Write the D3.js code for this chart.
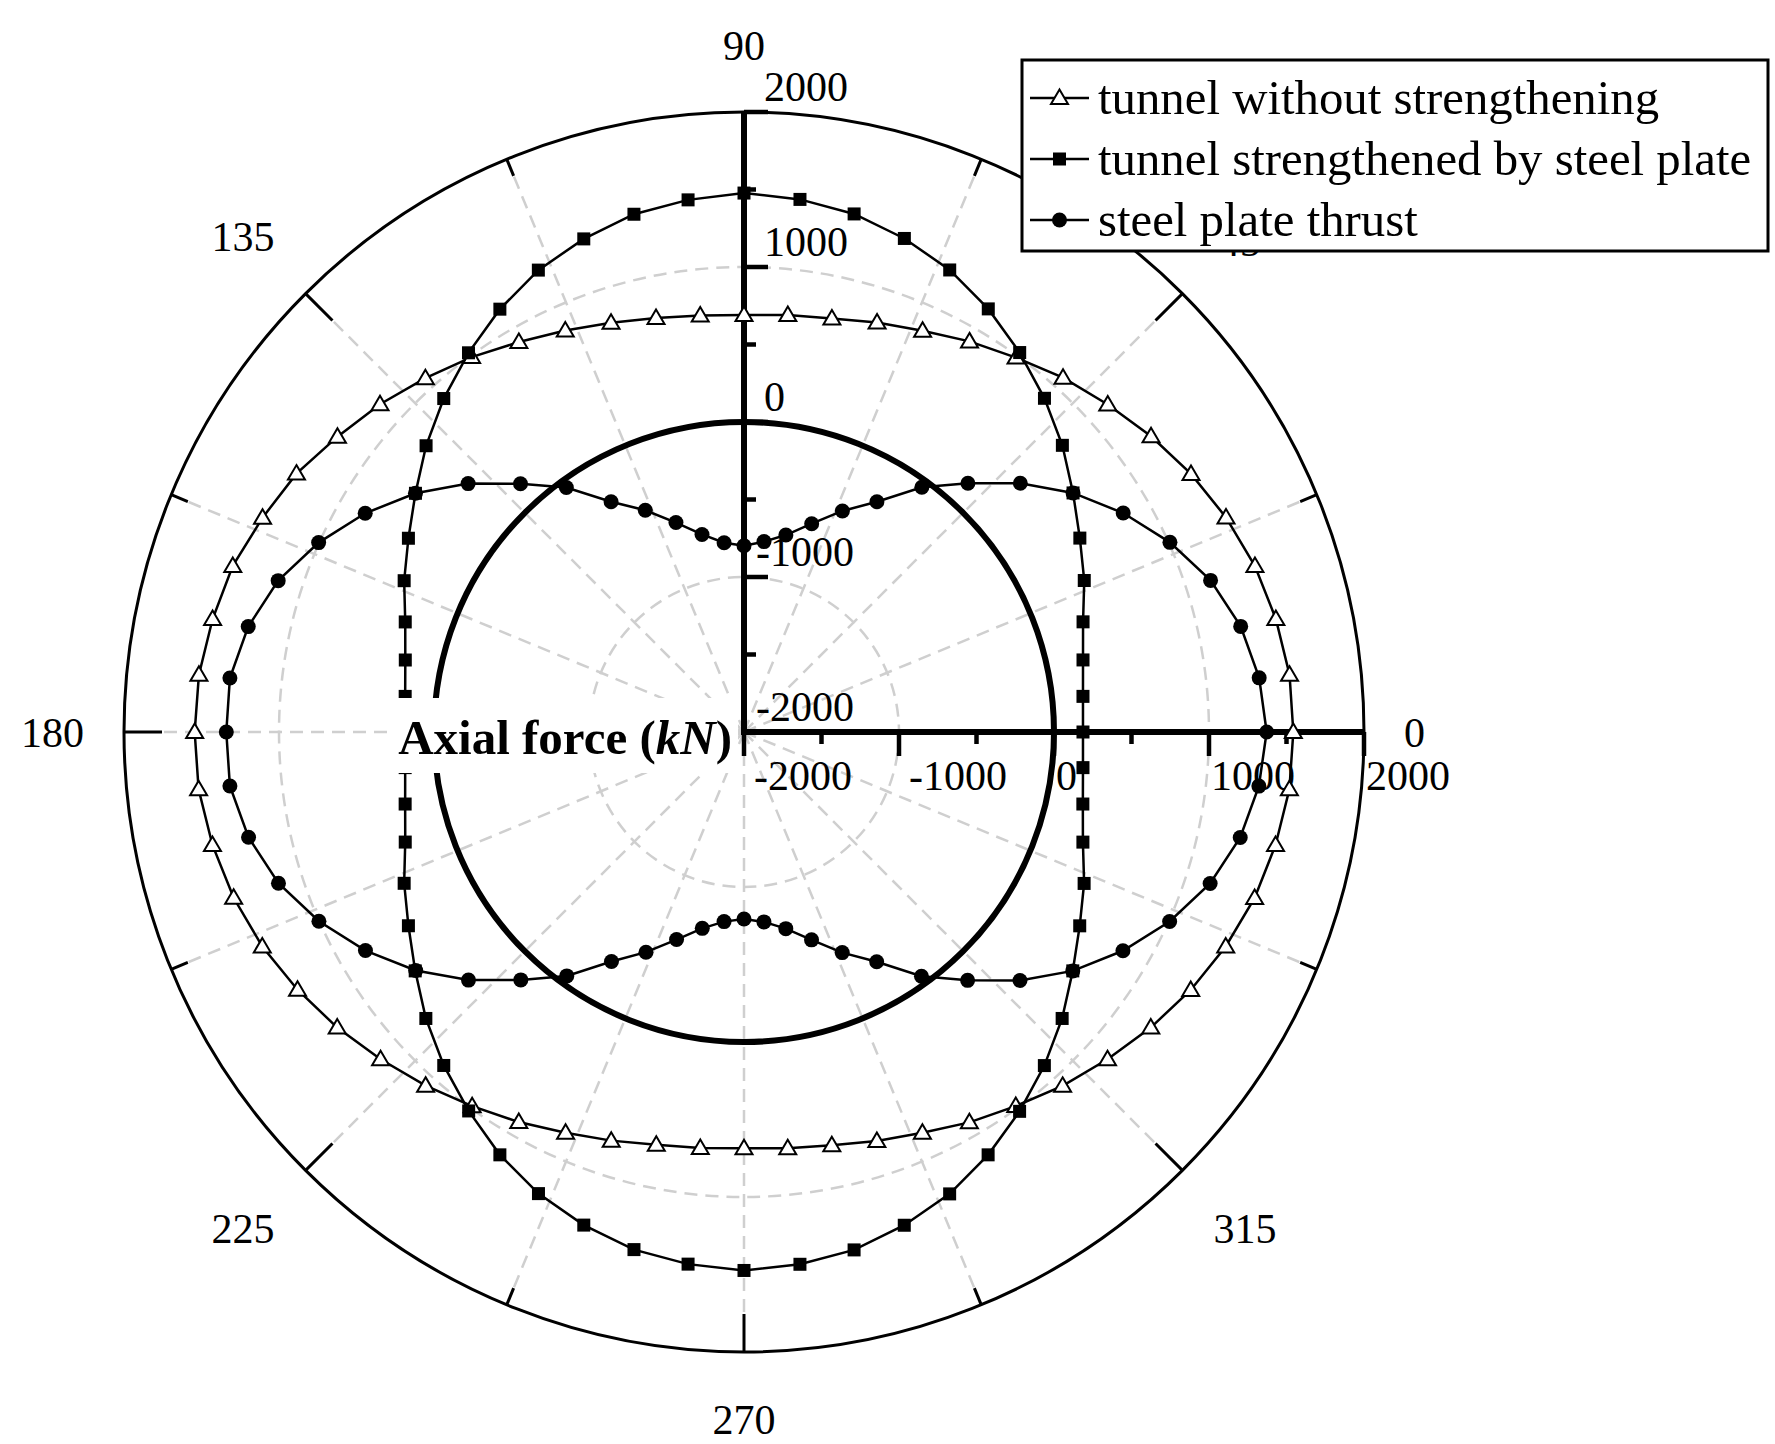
<!DOCTYPE html>
<html><head><meta charset="utf-8">
<script src="https://cdn.jsdelivr.net/npm/d3@7"></script>
<style>html,body{margin:0;padding:0;background:#fff}</style>
</head><body>
<svg id="chart" width="1775" height="1444"></svg>
<script>
// ---------- data ----------
const angles = [0,6,12,18,24,30,36,42,48,54,60,66,72,78,84,90,96,102,108,114,120,126,132,138,144,150,156,162,168,174,180,186,192,198,204,210,216,222,228,234,240,246,252,258,264,270,276,282,288,294,300,306,312,318,324,330,336,342,348,354];
const tunnelWithout = [1544,1539,1508,1466,1404,1330,1246,1158,1076,986,910,833,778,728,705,690,
  702,730,776,835,905,990,1072,1160,1242,1334,1400,1468,1505,1536,1544,
  1538,1506,1462,1402,1326,1244,1155,1070,984,906,830,772,722,698,686,
  700,725,774,830,908,983,1072,1156,1244,1328,1402,1464,1506,1538];
const tunnelSteel = [187,199,236,300,403,502,624,764,897,1026,1152,1263,1348,1417,1455,1477,
  1452,1415,1345,1262,1150,1024,895,760,620,500,400,298,234,198,186,
  198,235,298,400,500,622,762,895,1022,1150,1260,1345,1414,1452,1474,
  1453,1416,1346,1262,1150,1025,896,762,622,501,402,299,235,199];
const plateThrust = [1372,1342,1276,1165,1008,825,624,399,159,-48,-285,-439,-587,-701,-765,-798,
  -772,-697,-579,-434,-285,-50,155,395,620,822,1004,1160,1270,1335,1340,
  1335,1268,1158,1002,820,618,392,152,-55,-290,-445,-592,-705,-770,-794,
  -768,-703,-590,-442,-288,-52,156,396,622,823,1006,1162,1273,1340];
const seriesNames = ["tunnel without strengthening","tunnel strengthened by steel plate","steel plate thrust"];
const radialTicks = [-2000,-1000,0,1000,2000];
const radialMinor = [-1500,-500,500,1500];
const angleTicks = [0,22.5,45,67.5,90,112.5,135,157.5,180,202.5,225,247.5,270,292.5,315,337.5];
const angleLabels = [0,45,90,135,180,225,270,315];
const axisTitle = "Axial force (kN)";

// ---------- layout ----------
const cx = 744, cy = 732, R = 620;
const FONT = "'Liberation Serif','Times New Roman',serif";
const TICKFS = 42;
const svg = d3.select("#chart");
svg.append("rect").attr("width",1775).attr("height",1444).attr("fill","#fff");
const r = d3.scaleLinear().domain([-2000,2000]).range([0,R]);
const rad = a => a*Math.PI/180;
const px = (a,rr) => cx + rr*Math.cos(rad(a));
const py = (a,rr) => cy - rr*Math.sin(rad(a));

const g = svg.append("g");
// dashed radial grid
angleTicks.forEach(a=>{
  const major = (a % 45) === 0;
  const tl = major ? 38 : 18;
  g.append("line").attr("x1",cx).attr("y1",cy).attr("x2",px(a,R-tl)).attr("y2",py(a,R-tl))
   .attr("stroke","#cfcfcf").attr("stroke-width",2.5).attr("stroke-dasharray","13,8");
});
// dashed grid circles
[-1000,1000].forEach(v=>{
  g.append("circle").attr("cx",cx).attr("cy",cy).attr("r",r(v)).attr("fill","none")
   .attr("stroke","#cfcfcf").attr("stroke-width",2.5).attr("stroke-dasharray","13,8");
});
// outer circle
g.append("circle").attr("cx",cx).attr("cy",cy).attr("r",R).attr("fill","none").attr("stroke","#000").attr("stroke-width",3);
// angular ticks
angleTicks.forEach(a=>{
  const major = (a % 45) === 0;
  const tl = major ? 38 : 18;
  g.append("line").attr("x1",px(a,R)).attr("y1",py(a,R)).attr("x2",px(a,R-tl)).attr("y2",py(a,R-tl))
   .attr("stroke","#000").attr("stroke-width",3);
});
// angular labels
angleLabels.forEach(a=>{
  const t = String(a);
  const s = Math.abs(Math.sin(rad(a))), c = Math.abs(Math.cos(rad(a)));
  const hw = t.length*TICKFS/4, hh = 15;
  const rr = 660 + 12*s + hw*c + hh*s;
  const rx = rr + 14*s*c;
  g.append("text").attr("x",px(a,rx)).attr("y",py(a,rr)+1).attr("text-anchor","middle")
   .attr("dominant-baseline","central").attr("font-family",FONT).attr("font-size",TICKFS).text(t);
});
// zero circle (bold)
g.append("circle").attr("cx",cx).attr("cy",cy).attr("r",r(0)).attr("fill","none").attr("stroke","#000").attr("stroke-width",6);

// axes
g.append("line").attr("x1",cx).attr("y1",cy).attr("x2",cx+R).attr("y2",cy).attr("stroke","#000").attr("stroke-width",6);
g.append("line").attr("x1",cx).attr("y1",cy+3).attr("x2",cx).attr("y2",cy-R).attr("stroke","#000").attr("stroke-width",6);
radialTicks.concat(radialMinor).forEach(v=>{
  const major = radialTicks.includes(v);
  const tl = major ? 24 : 12;
  g.append("line").attr("x1",cx+r(v)).attr("y1",cy).attr("x2",cx+r(v)).attr("y2",cy+tl).attr("stroke","#000").attr("stroke-width",4.5);
  g.append("line").attr("x1",cx).attr("y1",cy-r(v)).attr("x2",cx+tl).attr("y2",cy-r(v)).attr("stroke","#000").attr("stroke-width",4.5);
});
radialTicks.forEach(v=>{
  g.append("text").attr("x",cx+r(v)+(v<0?10:2)).attr("y",cy+58).attr("font-family",FONT).attr("font-size",TICKFS).text(v);
  g.append("text").attr("x",cx+(v<0?12:20)).attr("y",cy-r(v)-11).attr("font-family",FONT).attr("font-size",TICKFS).text(v);
});

// ---------- series ----------
const mk = vals => angles.map((a,i)=>({a:a, v:vals[i]}));
const line = d3.lineRadial().angle(d=>rad(90-d.a)).radius(d=>r(d.v)).curve(d3.curveLinearClosed);
const sg = svg.append("g").attr("transform",`translate(${cx},${cy})`);
const series = [
  {vals: tunnelWithout, sym: "tri"},
  {vals: tunnelSteel, sym: "sq"},
  {vals: plateThrust, sym: "dot"}
];
function drawMarker(sel, sym){
  if(sym==="tri") sel.append("path").attr("d","M0,-8.5L8.5,6L-8.5,6Z").attr("fill","#fff").attr("stroke","#000").attr("stroke-width",2);
  else if(sym==="sq") sel.append("rect").attr("x",-6.5).attr("y",-6.5).attr("width",13).attr("height",13).attr("fill","#000");
  else sel.append("circle").attr("r",7.5).attr("fill","#000");
}
series.forEach(s=>{
  const data = mk(s.vals);
  sg.append("path").attr("d",line(data)).attr("fill","none").attr("stroke","#000").attr("stroke-width",2.5);
  data.forEach(d=>{
    const rr = r(d.v), t = rad(90-d.a);
    const m = sg.append("g").attr("transform",`translate(${rr*Math.sin(t)},${-rr*Math.cos(t)})`);
    drawMarker(m, s.sym);
  });
});

// axis title with white background
svg.append("rect").attr("x",390).attr("y",698).attr("width",348).attr("height",75).attr("fill","#fff");
const tt = svg.append("text").attr("x",732).attr("y",754).attr("text-anchor","end")
  .attr("font-family",FONT).attr("font-size",49).attr("font-weight","bold");
tt.append("tspan").text("Axial force (");
tt.append("tspan").attr("font-style","italic").text("kN");
tt.append("tspan").text(")");

// ---------- legend ----------
const lg = svg.append("g");
lg.append("rect").attr("x",1022).attr("y",60).attr("width",746).attr("height",191).attr("fill","#fff").attr("stroke","#000").attr("stroke-width",3);
seriesNames.forEach((n,i)=>{
  const y = 98 + i*61;
  lg.append("line").attr("x1",1030).attr("x2",1089).attr("y1",y).attr("y2",y).attr("stroke","#000").attr("stroke-width",2.5);
  const m = lg.append("g").attr("transform",`translate(1059.5,${y})`);
  drawMarker(m, series[i].sym);
  lg.append("text").attr("x",1098).attr("y",y+16).attr("font-family",FONT).attr("font-size",48.8).text(n);
});
</script>
</body></html>
